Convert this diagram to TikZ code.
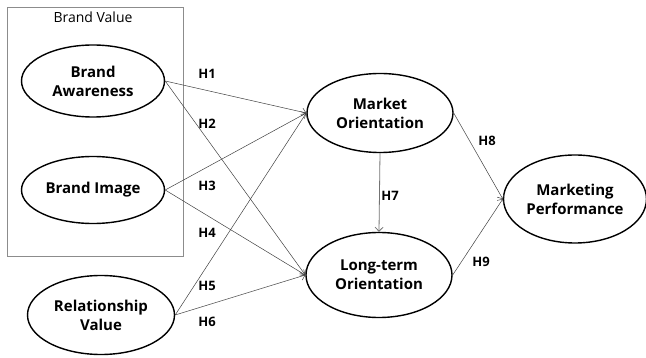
\documentclass[tikz,border=0pt]{standalone}
\usepackage{fontspec}
\setmainfont{Open Sans}
\usetikzlibrary{positioning}
\usetikzlibrary{arrows.meta}
\usetikzlibrary{shapes}
\tikzset{
        latent/.style={align=center,inner sep=0pt},
        % Construct ellipses
        node_construct/.style={latent, ellipse, draw=black, line width=1.4pt, fill=white, font=\fontsize{15}{19}\selectfont\bfseries},
        % Hypothesis labels
        node_hyp/.style={inner sep=0pt, font=\fontsize{13}{15}\selectfont\bfseries},
        % Paths
        path_hyp/.style={->, draw=black!75, line width=0.5pt}
}
\begin{document}
\begin{tikzpicture}[x=1pt, y=-1pt, >={Straight Barb[length=4pt,width=8pt]}]
            \useasboundingbox (0,0) rectangle (646,358);
            % Brand value box
            \node[draw=black!45, line width=0.6pt, minimum width=176pt, minimum height=249pt, inner sep=0pt] (brandbox) at (95,131.5) {};
            \node[inner sep=0pt, font=\fontsize{14}{16}\selectfont] (brandlbl) at (93,17) {Brand Value};
            % Constructs
            \node[node_construct, minimum width=143pt, minimum height=72pt] (brandaware) at (93,81) {Brand\\Awareness};
            \node[node_construct, minimum width=143pt, minimum height=67pt] (brandimg) at (93,190) {Brand Image};
            \node[node_construct, minimum width=147pt, minimum height=79pt] (relval) at (101,315) {Relationship\\Value};
            \node[node_construct, minimum width=146pt, minimum height=79pt] (marketori) at (380,113) {Market\\Orientation};
            \node[node_construct, minimum width=146pt, minimum height=85pt] (longori) at (379,275) {Long-term\\Orientation};
            \node[node_construct, minimum width=143pt, minimum height=88pt] (mktperf) at (575,199) {Marketing\\Performance};
            % Paths
            \draw[path_hyp] (brandaware.east) -- (marketori.west);
            \draw[path_hyp] (brandaware.east) -- (longori.west);
            \draw[path_hyp] (brandimg.east) -- (marketori.west);
            \draw[path_hyp] (brandimg.east) -- (longori.west);
            \draw[path_hyp] (relval.east) -- (marketori.west);
            \draw[path_hyp] (relval.east) -- (longori.west);
            \draw[path_hyp, draw=black!55, line width=0.8pt] (marketori.south) -- (longori.north);
            \draw[path_hyp] (marketori.east) -- (mktperf.west);
            \draw[path_hyp] (longori.east) -- (mktperf.west);
            % Hypotheses
            \node[node_hyp] (h1) at (207,74) {H1};
            \node[node_hyp] (h2) at (207,124) {H2};
            \node[node_hyp] (h3) at (207,186) {H3};
            \node[node_hyp] (h4) at (207,233) {H4};
            \node[node_hyp] (h5) at (207,286) {H5};
            \node[node_hyp] (h6) at (207,322) {H6};
            \node[node_hyp] (h7) at (390,196) {H7};
            \node[node_hyp] (h8) at (487,141) {H8};
            \node[node_hyp] (h9) at (481,262) {H9};
\end{tikzpicture}
\end{document}
